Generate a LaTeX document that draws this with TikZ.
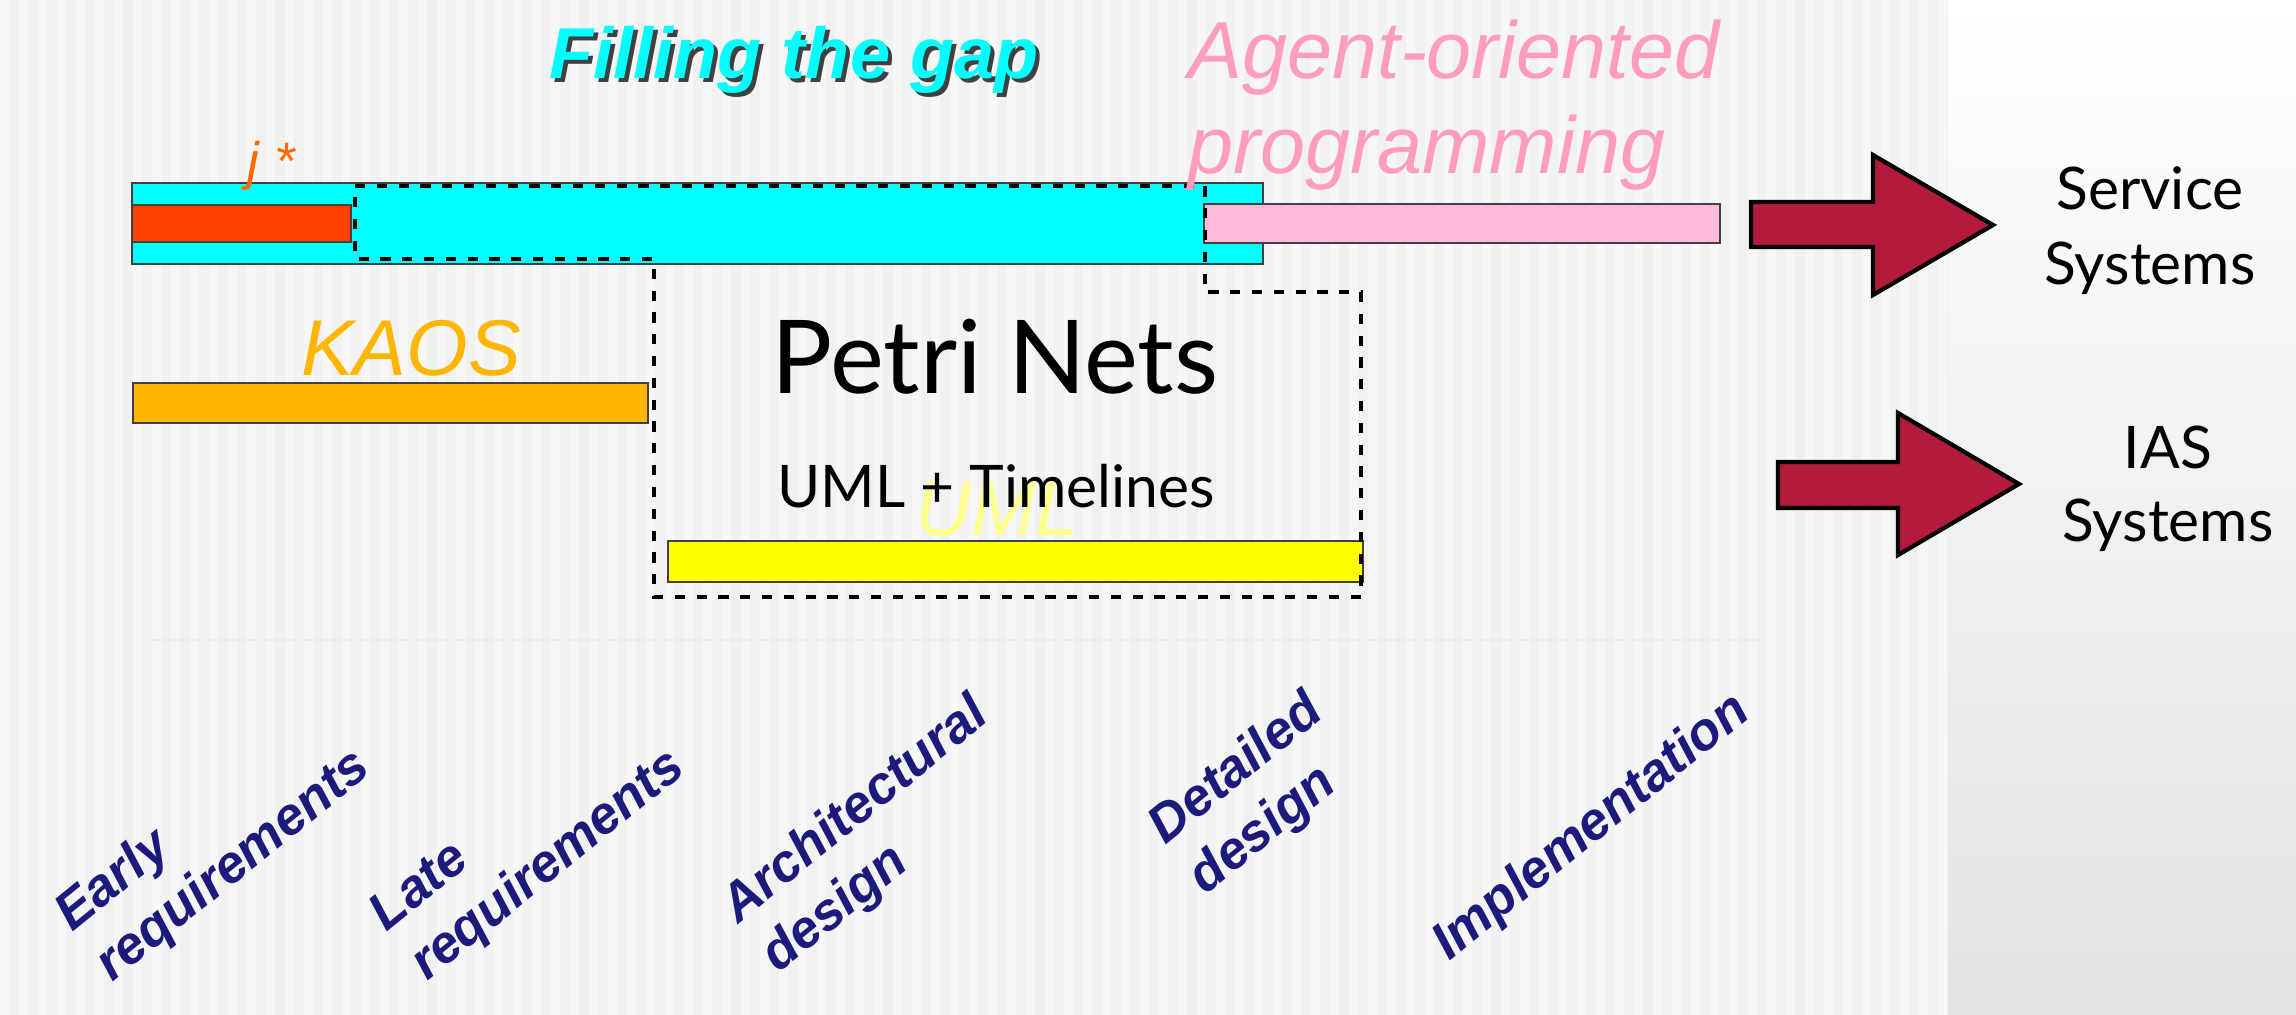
\documentclass[tikz,border=0pt]{standalone}
\usepackage{fontspec}
\setmainfont{Liberation Sans}
\newfontfamily\gillfont{Lato}

\definecolor{bggray}{HTML}{F1F1F1}
\definecolor{bgstripe}{HTML}{F7F7F7}
\definecolor{gapcyan}{HTML}{00FFFF}
\definecolor{istarbar}{HTML}{FF4000}
\definecolor{istartext}{HTML}{FF6A00}
\definecolor{aopink}{HTML}{FFBADC}
\definecolor{aotext}{HTML}{FF9DBA}
\definecolor{kaosorange}{HTML}{FFB600}
\definecolor{umlyellow}{HTML}{FFFF00}
\definecolor{umltext}{HTML}{FFFF8C}
\definecolor{phasenavy}{HTML}{1C1A7A}
\definecolor{bigred}{HTML}{B31A3B}

\begin{document}
\begin{tikzpicture}[x=0.01cm,y=-0.01cm,
  bar/.style={draw=black!75,line width=0.6pt},
  region/.style={draw=black,line width=1.2pt,dash pattern=on 2.9pt off 3.3pt},
  bigarrow/.style={fill=bigred,draw=black,line width=1.2pt,line join=miter},
  slidetxt/.style={inner sep=0pt,font=\fontsize{23}{27}\selectfont\itshape},
  gilltxt/.style={inner sep=0pt,font=\gillfont\fontsize{16.7}{21.3}\selectfont},
  phaselabel/.style={inner sep=0pt,align=left,rotate=39,text=phasenavy,
    font=\fontsize{15}{18.2}\selectfont\bfseries\itshape}]
  \useasboundingbox (0,0) rectangle (2296,1015);

  % background
  \fill[bggray] (0,0) rectangle (1948,1015);
  \foreach \x in {0,19,...,1938}
    \fill[bgstripe] (\x,0) rectangle ++(9,1015);
  \shade[top color=white,middle color=white,bottom color=black!11] (1948,0) rectangle (2296,1015);
  \draw[black!7,line width=0.8pt] (152,640) -- (1764,640);

  % bars
  \draw[bar,fill=gapcyan] (132,183) rectangle (1263,264);
  \draw[bar,fill=istarbar] (132,205) rectangle (351,242);
  \draw[bar,fill=aopink] (1204,204) rectangle (1720,243);
  \draw[bar,fill=kaosorange] (133,383) rectangle (648,423);
  \draw[bar,fill=umlyellow] (668,541) rectangle (1363,582);

  % dashed region
  \draw[region] (355,186) -- (1205,186) -- (1205,292) -- (1361,292)
    -- (1361,597) -- (654,597) -- (654,259) -- (355,259) -- cycle;

  % bar labels
  \node[slidetxt,anchor=base,text=black!75,font=\fontsize{20.5}{24}\selectfont\bfseries\itshape]
    (gapshadow) at (798,82) {Filling the gap};
  \node[slidetxt,anchor=base,text=gapcyan,font=\fontsize{20.5}{24}\selectfont\bfseries\itshape]
    (gap) at (794,78) {Filling the gap};
  \node[slidetxt,anchor=base west,text=aotext] (aop1) at (1188,78) {Agent-oriented};
  \node[slidetxt,anchor=base west,text=aotext] (aop2) at (1188,173) {programming};
  \node[slidetxt,anchor=base west,text=istartext,font=\fontsize{15}{18}\selectfont\itshape]
    (istar) at (247,179) {j *};
  \node[slidetxt,anchor=base,text=kaosorange,font=\fontsize{22.5}{26}\selectfont\itshape]
    (kaos) at (411,375) {KAOS};
  \node[slidetxt,anchor=base,text=umltext,font=\fontsize{22}{26}\selectfont\itshape]
    (uml) at (997,535) {UML};

  % dashed region text
  \node[gilltxt,anchor=base,font=\gillfont\fontsize{29}{34}\selectfont] (petri) at (995,393) {Petri Nets};
  \node[gilltxt,anchor=base] (umltl) at (996,507) {UML + Timelines};

  % arrows to the outcomes
  \draw[bigarrow] (1751,202) -- (1873,202) -- (1873,155) -- (1993,225)
    -- (1873,295) -- (1873,247) -- (1751,247) -- cycle;
  \draw[bigarrow] (1778,462) -- (1898,462) -- (1898,413) -- (2019,484)
    -- (1898,555) -- (1898,508) -- (1778,508) -- cycle;
  \node[gilltxt,anchor=north,align=center] (service) at (2150,166) {Service\\Systems};
  \node[gilltxt,anchor=north,align=center,font=\gillfont\fontsize{16.7}{20.8}\selectfont]
    (ias) at (2168,425) {IAS\\Systems};

  % phases
  \node[phaselabel] (early) at (214,842) {Early\\requirements};
  \node[phaselabel] (late) at (529,842) {Late\\requirements};
  \node[phaselabel] (arch) at (876,836) {Architectural\\design};
  \node[phaselabel] (detail) at (1257,795) {Detailed\\design};
  \node[phaselabel] (impl) at (1592,828) {Implementation};
\end{tikzpicture}
\end{document}
